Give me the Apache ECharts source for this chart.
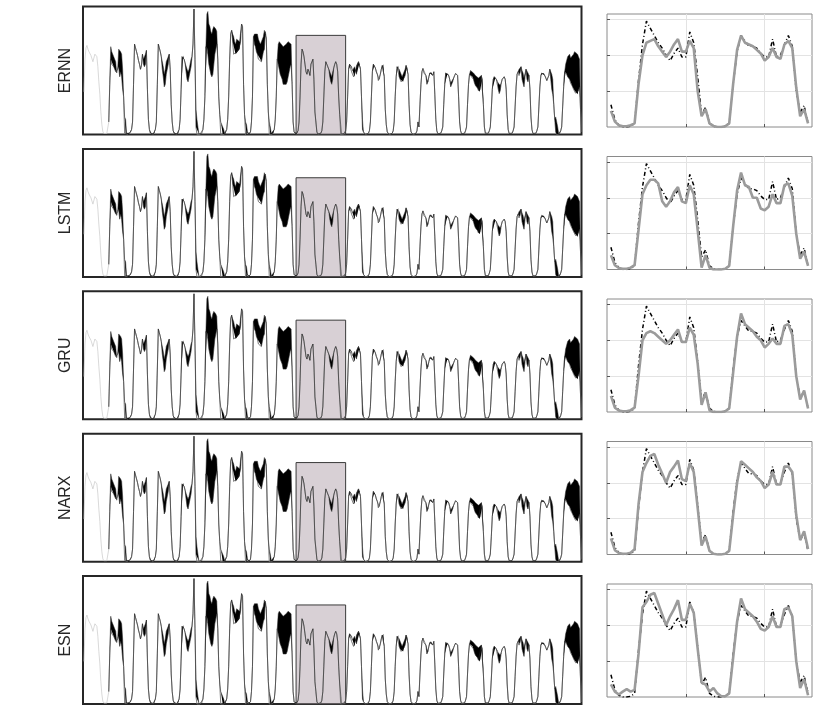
<!DOCTYPE html>
<html><head><meta charset="utf-8">
<script src="https://cdn.jsdelivr.net/npm/echarts@6/dist/echarts.min.js"></script>
<style>html,body{margin:0;padding:0;background:#fff}#c{width:830px;height:712px}</style>
</head><body><div id="c"></div>
<script>
// ---------- DATA ----------
const modelNames = ['ERNN', 'LSTM', 'GRU', 'NARX', 'ESN'];

// long series (hourly), hour axis 0..503
const lastHour = 503;
const firstDayStart = 1;      // warm-up day (only prediction drawn)
const firstDay = [1.7,3.0,3.45,3.55,3.4,3.3,3.25,3.15,3.1,2.9,3.05,3.2,3.15,3.1,2.7,2.1,1.6,0.9,0.4,0.12,0.04,0.02,0.02,0.04,0.1,0.5];
const day1Start = 27;
// lower envelope per day
const dayLo = [
 [2.0,3.0,2.8,2.8,2.7,2.6,2.5,2.45,2.6,2.7,2.3,2.5,2.3,1.8,1.5,0.05,0.05,0.05,0.02,0.0,0.05,0.1,0.2,0.5],
 [2.0,3.6,3.45,3.3,3.15,2.95,2.8,2.6,2.75,3.2,2.8,2.7,2.8,3.35,1.8,0.6,0.2,0.06,0.02,0.0,0.02,0.06,0.2,0.5],
 [2.0,3.6,3.45,3.3,3.1,2.6,2.3,1.9,2.0,2.4,2.6,2.8,3.2,2.6,1.2,0.5,0.15,0.05,0.02,0.0,0.02,0.05,0.2,0.6],
 [1.8,3.1,3.15,3.0,2.85,2.5,2.2,2.1,2.3,2.5,2.7,3.1,3.6,5.0,3.0,0.3,0.0,0.0,0.02,0.0,0.02,0.05,0.2,0.6],
 [1.5,3.5,3.5,3.2,2.8,2.6,2.4,2.3,2.4,2.8,3.2,3.4,3.6,3.0,1.5,0.8,0.0,0.0,0.0,0.0,0.02,0.05,0.2,0.6],
 [1.5,3.0,4.0,4.15,3.7,3.2,3.2,3.2,3.3,3.3,3.4,3.4,3.7,4.4,4.3,2.0,0.8,0.0,0.0,0.1,0.02,0.02,0.1,0.5],
 [1.5,3.9,3.6,3.5,3.3,3.2,3.0,3.0,3.0,2.9,3.1,3.3,3.4,4.1,3.8,2.0,0.9,0.0,0.0,0.05,0.02,0.05,0.2,0.6],
 [1.5,3.0,2.8,2.6,2.4,2.3,2.2,2.0,1.95,1.95,2.0,2.1,2.3,2.5,2.7,2.8,2.0,0.5,0.1,0.03,0.02,0.05,0.15,0.5],
 [1.5,2.8,3.4,3.3,3.1,2.8,2.5,2.4,2.6,2.5,2.35,2.8,2.9,3.0,2.2,0.9,0.5,0.1,0.02,0.0,0.02,0.05,0.15,0.5],
 [1.5,2.5,2.9,2.8,2.7,2.6,2.3,2.1,2.0,2.2,2.65,2.8,2.9,2.8,2.5,1.5,0.8,0.0,0.02,0.0,0.02,0.05,0.15,0.5],
 [1.5,2.6,2.8,2.75,2.5,2.55,2.3,2.3,2.55,2.4,2.8,2.9,2.85,2.6,1.5,0.2,0.1,0.03,0.0,0.0,0.02,0.05,0.15,0.5],
 [1.5,2.5,2.8,2.75,2.65,2.5,2.4,2.15,2.2,2.4,2.6,2.75,2.8,2.3,1.0,0.4,0.1,0.03,0.0,0.0,0.02,0.05,0.15,0.5],
 [1.5,2.3,2.7,2.75,2.3,2.2,2.1,2.05,2.1,2.25,2.35,2.75,2.7,2.4,1.2,0.4,0.1,0.03,0.0,0.0,0.02,0.05,0.15,0.5],
 [0.3,1.2,2.0,2.5,2.63,2.45,2.45,2.35,2.0,2.1,2.3,2.45,2.5,2.4,2.36,2.5,1.6,0.6,0.15,0.03,0.0,0.02,0.05,0.15],
 [0.3,1.2,2.0,2.45,2.5,2.45,2.35,2.2,1.9,2.0,2.1,2.25,2.35,2.43,2.4,2.35,1.5,0.5,0.15,0.03,0.0,0.02,0.05,0.15],
 [0.3,1.2,2.0,2.4,2.35,2.3,2.3,2.2,2.05,1.95,1.9,1.85,1.75,1.7,1.8,2.35,2.3,1.2,0.3,0.05,0.0,0.02,0.05,0.15],
 [0.3,1.0,1.8,2.2,2.3,2.25,2.2,2.15,1.8,1.63,1.75,2.05,2.2,2.25,2.3,2.2,1.8,0.8,0.2,0.04,0.0,0.02,0.05,0.15],
 [0.3,1.1,1.9,2.4,2.5,2.35,2.4,2.7,2.2,2.05,1.9,2.3,2.6,2.2,2.1,2.36,1.8,0.7,0.2,0.04,0.0,0.02,0.05,0.15],
 [0.3,1.1,1.9,2.35,2.45,2.5,2.45,2.35,2.25,2.15,2.25,2.35,2.6,2.2,1.8,1.6,1.2,0.6,0.1,0.0,0.0,0.02,0.05,0.15],
 [0.3,1.1,1.9,2.5,2.5,2.4,2.3,2.25,2.2,2.05,2.0,1.9,1.8,1.75,1.65,1.6,1.6,1.75,1.9,1.0,0.1]
];
// upper envelope of the fast fluctuations (null = no fluctuation)
const N_ = null;
const dayHi = [
 [N_,3.5,3.3,3.2,3.2,3.0,2.9,N_,N_,3.4,3.4,3.3,3.2,2.6,N_,0.7,0.6,N_,N_,N_,N_,N_,N_,N_],
 [N_,N_,N_,N_,N_,N_,N_,N_,N_,N_,3.0,3.1,3.2,N_,N_,N_,N_,N_,N_,N_,N_,N_,N_,N_],
 [N_,N_,N_,N_,N_,2.9,2.7,2.4,2.6,2.9,3.0,3.1,N_,N_,N_,N_,N_,N_,N_,N_,N_,N_,N_,N_],
 [N_,N_,N_,N_,N_,2.8,2.6,2.5,2.6,2.8,3.0,N_,N_,N_,N_,1.0,0.6,0.3,N_,N_,N_,N_,N_,N_],
 [N_,N_,4.8,4.9,4.4,4.3,4.1,4.0,4.2,4.3,4.3,4.2,4.1,N_,N_,N_,0.5,0.4,0.3,0.2,N_,N_,N_,N_],
 [N_,N_,N_,N_,4.0,3.9,3.7,3.6,3.8,3.8,3.75,3.7,N_,N_,N_,N_,N_,0.5,0.4,N_,N_,N_,N_,N_],
 [N_,N_,4.0,4.0,4.0,4.0,3.8,3.7,3.6,3.6,3.8,3.9,4.15,N_,N_,N_,N_,0.5,0.3,N_,N_,N_,N_,N_],
 [N_,N_,3.6,3.7,3.7,3.6,3.6,3.5,3.5,3.5,3.6,3.6,3.7,3.7,3.75,3.6,N_,N_,N_,N_,N_,N_,N_,N_],
 [N_,N_,N_,N_,N_,N_,N_,N_,N_,N_,N_,N_,N_,N_,N_,N_,N_,N_,N_,N_,N_,N_,N_,N_],
 [N_,N_,N_,N_,N_,N_,2.5,2.4,2.3,2.5,N_,N_,N_,N_,N_,N_,N_,0.4,N_,N_,N_,N_,N_,N_],
 [N_,N_,N_,N_,2.7,N_,2.6,2.7,N_,2.75,N_,N_,N_,N_,N_,0.6,N_,N_,N_,N_,N_,N_,N_,N_],
 [N_,N_,N_,N_,N_,N_,N_,2.3,N_,N_,N_,N_,N_,N_,N_,N_,N_,N_,N_,N_,N_,N_,N_,N_],
 [N_,N_,N_,N_,2.6,2.5,2.4,2.3,2.4,2.5,2.6,N_,N_,N_,N_,N_,N_,N_,N_,N_,N_,N_,N_,N_],
 [N_,N_,N_,N_,N_,2.65,N_,N_,2.2,N_,N_,N_,N_,N_,N_,N_,N_,N_,N_,N_,N_,N_,N_,N_],
 [N_,N_,N_,N_,N_,N_,N_,N_,2.05,N_,N_,N_,N_,N_,N_,N_,N_,N_,N_,N_,N_,N_,N_,N_],
 [N_,N_,N_,N_,2.55,2.55,2.5,2.45,2.4,2.35,2.3,2.3,2.25,2.2,2.3,N_,N_,N_,N_,N_,N_,N_,N_,N_],
 [N_,N_,N_,N_,N_,N_,N_,N_,2.05,2.0,1.95,N_,N_,N_,N_,N_,N_,N_,N_,N_,N_,N_,N_,N_],
 [N_,N_,N_,N_,N_,2.6,2.65,N_,2.55,2.45,2.25,N_,N_,2.55,2.45,N_,N_,N_,N_,N_,N_,N_,N_,N_],
 [N_,N_,N_,N_,N_,N_,N_,N_,N_,N_,N_,N_,N_,2.6,2.4,2.2,N_,N_,0.7,0.5,0.3,N_,N_,N_],
 [N_,N_,N_,N_,2.8,2.95,3.1,3.15,3.2,3.05,3.0,3.1,3.2,3.3,3.3,3.25,3.2,3.1,3.0,N_,N_]
];
const zoomWindow = [215, 265];   // hours highlighted
const zoomTop = 3.95;
const leftYMax = 5.1;

// zoomed window (hourly, x = 1..51)
const rightTrue = [0.62,0.2,0.05,0.0,0.0,0.02,0.1,1.3,2.3,2.95,2.75,2.55,2.35,2.2,2.0,1.85,2.05,2.2,1.95,1.95,2.65,2.35,1.4,0.35,0.55,0.1,0.02,0.0,0.0,0.02,0.1,1.2,2.1,2.55,2.4,2.25,2.25,2.2,2.05,1.95,1.95,2.45,1.95,2.0,2.3,2.55,2.25,1.0,0.4,0.6,0.1];
const predERNN = [0.45,0.15,0.05,0.02,0.02,0.05,0.1,1.2,2.0,2.35,2.4,2.45,2.25,2.1,1.95,2.1,2.3,2.45,2.1,2.1,2.4,2.2,1.0,0.3,0.5,0.1,0.03,0.0,0.0,0.02,0.1,1.2,2.15,2.55,2.35,2.3,2.25,2.15,2.05,1.85,1.95,2.2,1.95,1.9,2.3,2.4,2.2,1.1,0.3,0.5,0.1];
const predLSTM = [0.4,0.12,0.04,0.02,0.02,0.05,0.12,1.1,2.1,2.35,2.5,2.5,2.4,1.9,1.75,1.9,2.15,2.3,1.9,1.85,2.35,2.1,1.1,0.05,0.4,0.05,0.0,0.0,0.0,0.02,0.1,1.2,2.2,2.7,2.35,2.3,2.0,2.0,1.7,1.65,1.75,2.1,1.85,1.85,2.35,2.4,2.05,1.0,0.3,0.5,0.1];
const predGRU = [0.45,0.12,0.04,0.02,0.02,0.05,0.12,1.0,2.0,2.2,2.25,2.2,2.1,2.0,1.9,2.0,2.15,2.3,1.95,1.95,2.35,2.15,1.35,0.2,0.55,0.05,0.0,0.0,0.0,0.02,0.1,1.1,2.1,2.75,2.45,2.35,2.25,2.1,2.0,1.8,1.9,2.05,1.9,1.9,2.4,2.45,2.15,1.0,0.35,0.6,0.1];
const predNARX = [0.45,0.12,0.04,0.02,0.02,0.05,0.15,1.4,2.3,2.55,2.75,2.8,2.5,2.26,2.0,2.3,2.45,2.62,2.1,2.05,2.55,2.3,1.3,0.25,0.5,0.1,0.02,0.0,0.0,0.02,0.1,1.1,2.0,2.6,2.5,2.4,2.3,2.15,2.05,1.85,1.95,2.3,1.95,1.95,2.45,2.45,2.3,1.1,0.4,0.65,0.15];
const predESN = [0.35,0.15,0.07,0.15,0.22,0.15,0.2,1.2,2.5,2.65,2.85,2.9,2.6,2.3,2.0,2.25,2.45,2.7,2.15,2.15,2.6,2.35,1.35,0.4,0.35,0.15,0.25,0.1,0.02,0.02,0.1,1.1,2.1,2.75,2.45,2.35,2.25,2.1,1.9,1.85,1.95,2.25,1.95,1.95,2.45,2.5,2.25,1.0,0.25,0.5,0.05];
const predictions = [predERNN, predLSTM, predGRU, predNARX, predESN];
const rightXMax = 52, rightYMax = 3.15;
const rightXTicks = [20, 40];
const rightYTicks = [1, 2, 3];

// ---------- BUILD ----------
const hours = [];
for (let h = 0; h <= lastHour; h++) hours.push(String(h));
const N = hours.length;
const seqLo = [].concat(...dayLo);
const seqHi = [].concat(...dayHi);
const grayAll = new Array(N).fill(null);
const loB = new Array(N).fill(null);
const hiB = new Array(N).fill(null);
firstDay.forEach((v, i) => { grayAll[firstDayStart + i] = v; });
loB[day1Start - 1] = firstDay[firstDay.length - 1];
hiB[day1Start - 1] = firstDay[firstDay.length - 1];
seqLo.forEach((v, i) => {
  const idx = day1Start + i;
  if (idx > lastHour) return;
  grayAll[idx] = v;
  loB[idx] = v;
  hiB[idx] = (seqHi[i] == null) ? v : seqHi[i];
});
const diffB = loB.map((v, i) => v == null ? null : +(hiB[i] - v).toFixed(3));

const rowStep = 142.4;
const grids = [], xAxes = [], yAxes = [], series = [], graphics = [];
modelNames.forEach((name, r) => {
  const topL = 6.5 + rowStep * r;
  const topR = 14 + 142.5 * r;
  grids.push({ left: 83, top: topL, width: 498.5, height: 128, show: true, borderColor: '#262626', borderWidth: 2, backgroundColor: 'transparent' });
  grids.push({ left: 607, top: topR, width: 205, height: 113, show: true, borderColor: '#8a8a8a', borderWidth: 1 });
  const gi = 2 * r;
  xAxes.push({ gridIndex: gi, type: 'category', data: hours, boundaryGap: false, show: false });
  yAxes.push({ gridIndex: gi, type: 'value', min: 0, max: leftYMax, show: false });
  xAxes.push({ gridIndex: gi + 1, type: 'value', min: 0, max: rightXMax, interval: 20,
    axisLine: { show: false }, axisLabel: { show: false },
    axisTick: { show: true, inside: true, length: 3, customValues: rightXTicks, lineStyle: { color: '#555' } },
    splitLine: { show: true, lineStyle: { color: '#e3e3e3', width: 1 } } });
  yAxes.push({ gridIndex: gi + 1, type: 'value', min: 0, max: rightYMax, interval: 1,
    axisLine: { show: false }, axisLabel: { show: false },
    axisTick: { show: true, inside: true, length: 3, customValues: rightYTicks, lineStyle: { color: '#555' } },
    splitLine: { show: true, lineStyle: { color: '#e3e3e3', width: 1 } } });

  const L = { xAxisIndex: gi, yAxisIndex: gi, type: 'line', symbol: 'none', silent: true, animation: false };
  series.push(Object.assign({}, L, { data: grayAll, lineStyle: { color: '#c8c8c8', width: 0.7 }, z: 1 }));
  series.push(Object.assign({}, L, { data: loB, stack: 'band' + r, stackStrategy: 'all', lineStyle: { opacity: 0, width: 0 }, z: 2 }));
  series.push(Object.assign({}, L, { data: diffB, stack: 'band' + r, stackStrategy: 'all', lineStyle: { opacity: 0, width: 0 }, areaStyle: { color: '#000', opacity: 1 }, z: 2 }));
  series.push(Object.assign({}, L, { data: loB, lineStyle: { color: '#2a2a2a', width: 0.5 }, z: 3 }));
  series.push(Object.assign({}, L, { data: hiB, lineStyle: { color: '#2a2a2a', width: 0.5 }, z: 3 }));
  series.push(Object.assign({}, L, { data: [], z: 10, markArea: { silent: true,
    itemStyle: { color: 'rgba(184,170,179,0.55)', borderColor: '#3a3a3a', borderWidth: 1 },
    data: [[{ xAxis: zoomWindow[0], yAxis: 0 }, { xAxis: zoomWindow[1], yAxis: zoomTop }]] } }));

  const R = { xAxisIndex: gi + 1, yAxisIndex: gi + 1, type: 'line', symbol: 'none', silent: true, animation: false };
  series.push(Object.assign({}, R, { data: rightTrue.map((v, i) => [i + 1, v]),
    lineStyle: { color: '#000', width: 1.5, type: [4, 2.5, 1, 2.5] }, z: 3 }));
  series.push(Object.assign({}, R, { data: predictions[r].map((v, i) => [i + 1, v]),
    lineStyle: { color: '#9b9b9b', width: 2.6 }, z: 4 }));

  graphics.push({ type: 'text', x: 66, y: topL + 64, rotation: Math.PI / 2,
    style: { text: name, fill: '#262626', font: '16px "Liberation Sans", Arial, sans-serif', align: 'center', verticalAlign: 'middle' } });
});

const chart = echarts.init(document.getElementById('c'), null, { renderer: 'canvas' });
chart.setOption({ animation: false, backgroundColor: '#fff', grid: grids, xAxis: xAxes, yAxis: yAxes, series: series, graphic: graphics });
</script></body></html>
